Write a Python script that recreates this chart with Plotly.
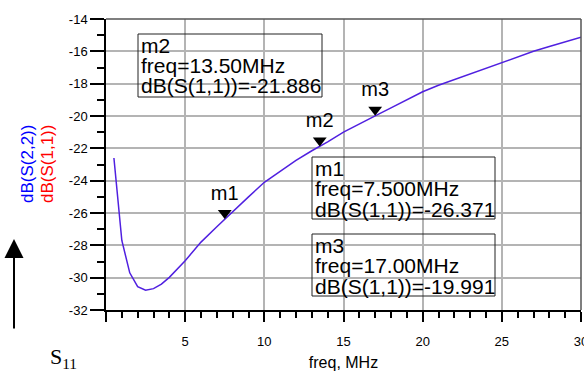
import plotly.graph_objects as go

# S11 sweep (freq in MHz, magnitude in dB)
freq_mhz = [0.5, 1, 1.5, 2, 2.5, 3, 3.5, 4, 5, 6, 7, 7.5, 8, 9, 10, 11, 12, 13, 13.5,
            14, 15, 16, 17, 18, 19, 20, 21, 22, 23, 24, 25, 26, 27, 28, 29, 30]
s11_db = [-22.6, -27.7, -29.7, -30.55, -30.78, -30.68, -30.4, -29.98, -28.95, -27.8,
          -26.85, -26.371, -25.92, -25.0, -24.1, -23.4, -22.75, -22.15, -21.886,
          -21.6, -21.0, -20.48, -19.991, -19.5, -19.0, -18.5, -18.1, -17.75, -17.4,
          -17.02, -16.66, -16.33, -16.0, -15.7, -15.42, -15.13]

marker_names = ["m1", "m2", "m3"]
marker_freq = [7.5, 13.5, 17.0]
marker_db = [-26.371, -21.886, -19.991]
marker_freq_text = ["7.500MHz", "13.50MHz", "17.00MHz"]

x_tick_vals = [0, 5, 10, 15, 20, 25, 30]
x_tick_text = ["", "5", "10", "15", "20", "25", "30"]
y_tick_vals = [-32, -30, -28, -26, -24, -22, -20, -18, -16, -14]
y_tick_text = ["-32", "-30", "-28", "-26", "-24", "-22", "-20", "-18", "-16", "-14"]

W, H = 584, 373
L, R, T, B = 106, 3, 19, 63
PW, PH = W - L - R, H - T - B
Y_RANGE = [-32, -14]
FONT = "Liberation Sans, Arial, Helvetica, sans-serif"


def px_x(px):
    return (px - L) / PW


def px_y(py):
    return (H - B - py) / PH


fig = go.Figure()

fig.add_trace(go.Scatter(
    x=freq_mhz, y=s11_db, mode="lines",
    line=dict(color="#5020e0", width=1.5),
    hoverinfo="skip", showlegend=False,
))

# marker triangles: tip sits on the curve, so lift centre by 6px in data units
lift = 6 * (Y_RANGE[1] - Y_RANGE[0]) / PH
fig.add_trace(go.Scatter(
    x=marker_freq, y=[v + lift for v in marker_db],
    mode="markers+text", text=marker_names, textposition="top center",
    textfont=dict(family=FONT, size=20, color="black"),
    marker=dict(symbol="triangle-down", size=12, color="black"),
    hoverinfo="skip", showlegend=False, cliponaxis=False,
))

# marker readout boxes (left, top, right, bottom in pixels)
boxes = {"m2": (138, 34, 322, 97), "m1": (312, 157, 495, 219), "m3": (312, 234, 495, 296)}
for name, f, v, ftxt in zip(marker_names, marker_freq, marker_db, marker_freq_text):
    x0, y0, x1, y1 = boxes[name]
    fig.add_shape(type="rect", xref="paper", yref="paper",
                  x0=px_x(x0), x1=px_x(x1), y0=px_y(y0), y1=px_y(y1),
                  line=dict(color="#222222", width=1), fillcolor="rgba(0,0,0,0)")
    lines = [name, "freq=" + ftxt, "dB(S(1,1))=%.3f" % v]
    for i, t in enumerate(lines):
        fig.add_annotation(
            x=px_x(x0 + 1), y=px_y(y0 + 11 + 20.5 * i), xref="paper", yref="paper",
            text=t, showarrow=False, xanchor="left", yanchor="middle",
            font=dict(family=FONT, size=21, color="black"),
        )

# left-hand series labels
fig.add_annotation(x=px_x(27), y=px_y(164), xref="paper", yref="paper",
                   text="dB(S(2,2))", textangle=-90, showarrow=False,
                   xanchor="center", yanchor="middle",
                   font=dict(family=FONT, size=17, color="#0000ff"))
fig.add_annotation(x=px_x(47), y=px_y(164), xref="paper", yref="paper",
                   text="dB(S(1,1))", textangle=-90, showarrow=False,
                   xanchor="center", yanchor="middle",
                   font=dict(family=FONT, size=17, color="#ff0000"))

# arrow and S11 tag
fig.add_annotation(x=px_x(14), y=px_y(239), xref="paper", yref="paper",
                   ax=0, ay=91, text="", showarrow=True,
                   arrowhead=2, arrowsize=1.9, arrowwidth=2, arrowcolor="black")
fig.add_annotation(x=px_x(63), y=px_y(358), xref="paper", yref="paper",
                   text="S<sub>11</sub>", showarrow=False,
                   xanchor="center", yanchor="middle",
                   font=dict(family="Liberation Serif, Times New Roman, serif", size=22, color="black"))

axis_common = dict(
    showline=True, linecolor="black", linewidth=1.5, mirror=False,
    showgrid=True, gridcolor="#b4b4b4", gridwidth=1.5,
    zeroline=False, ticks="outside", tickcolor="black", tickwidth=1.5,
    tickfont=dict(family=FONT, size=13, color="black"), automargin=False,
    ticklabeloverflow="allow",
)

fig.update_xaxes(
    range=[0, 30], tickmode="array", tickvals=x_tick_vals, ticktext=x_tick_text,
    ticklen=10, ticklabelstandoff=9,
    minor=dict(dtick=1, ticklen=6, tickcolor="black", tickwidth=1.5, showgrid=False),
    title=dict(text="freq, MHz", font=dict(family=FONT, size=16, color="black"), standoff=8),
    **axis_common,
)
fig.update_yaxes(
    range=Y_RANGE, tickmode="array", tickvals=y_tick_vals, ticktext=y_tick_text,
    ticklen=14, minor=dict(dtick=1, ticklen=7, tickcolor="black", tickwidth=1.5, showgrid=False),
    **axis_common,
)

# top / right frame in dark grey
fig.add_shape(type="line", xref="paper", yref="paper", x0=0, x1=1, y0=1, y1=1,
              line=dict(color="#555555", width=1.5))
fig.add_shape(type="line", xref="paper", yref="paper", x0=1, x1=1, y0=0, y1=1,
              line=dict(color="#555555", width=1.5))

fig.update_layout(
    template="none",
    width=W, height=H,
    margin=dict(l=L, r=R, t=T, b=B),
    paper_bgcolor="white", plot_bgcolor="white",
    showlegend=False,
)

# drop the browser's default 8px body margin so the figure sits at the page origin
fig.write_html("out.html", config={"displayModeBar": False},
               post_script="document.body.style.margin='0';")
